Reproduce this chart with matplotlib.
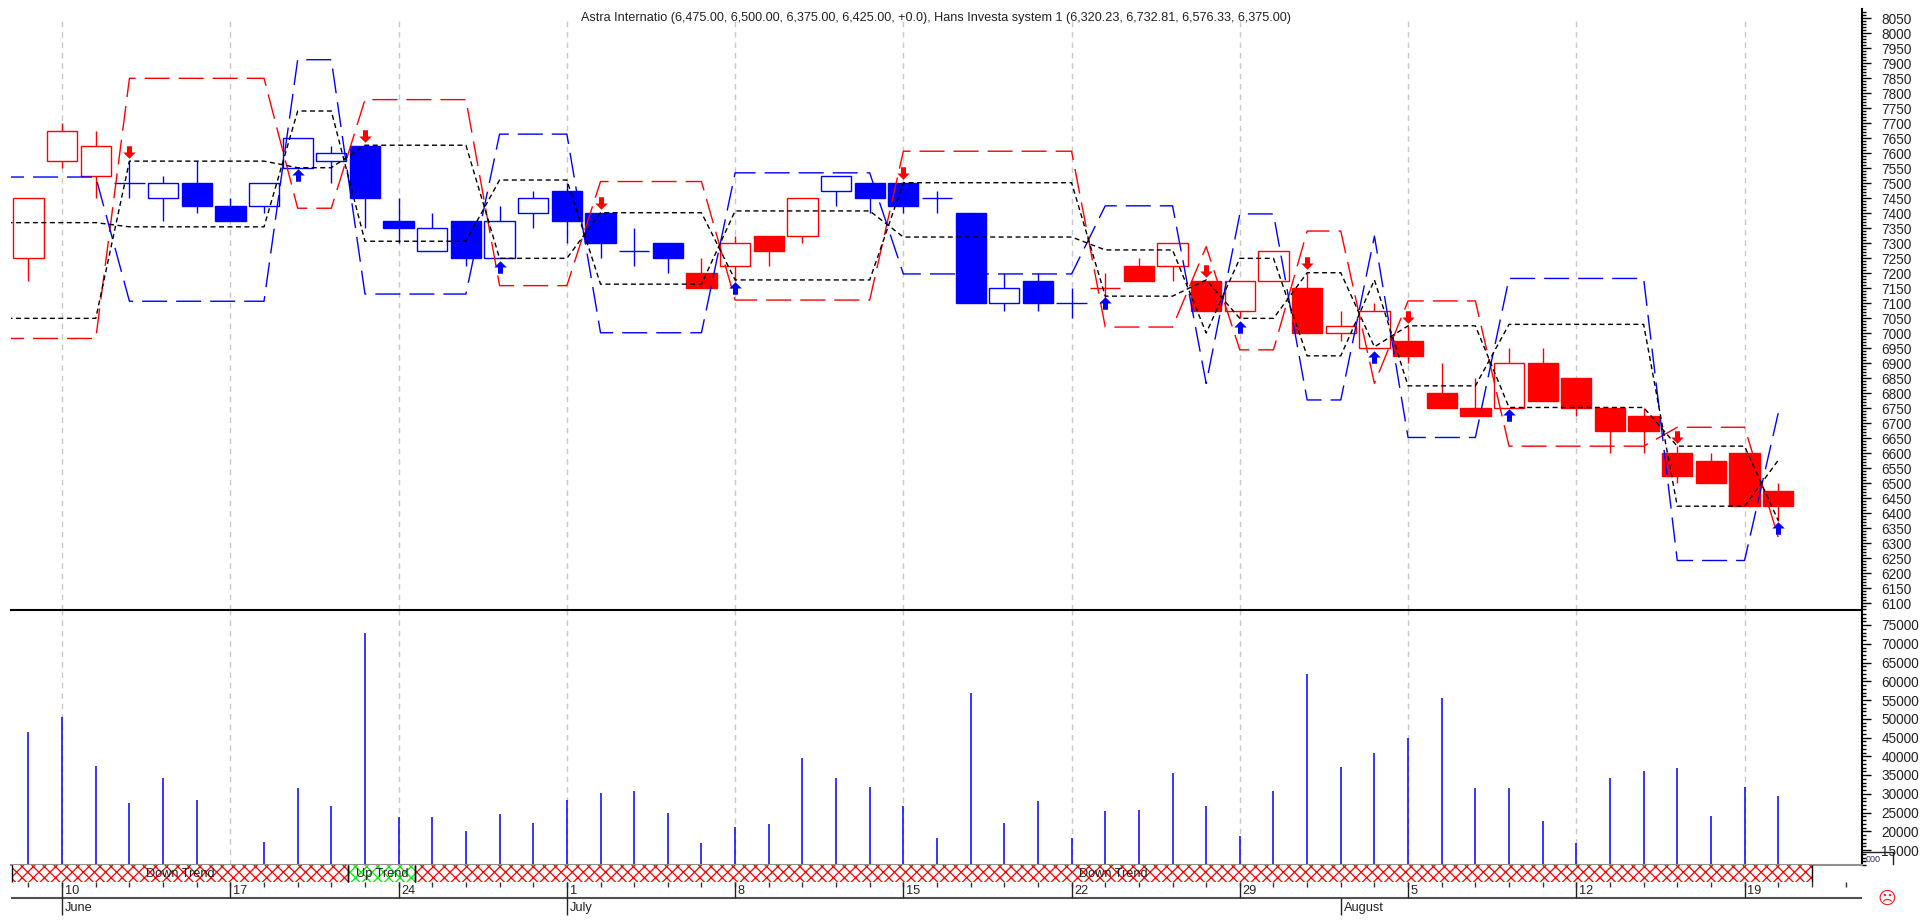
import matplotlib
matplotlib.use('Agg')
from matplotlib import pyplot as plt
from matplotlib.patches import Rectangle
from matplotlib.path import Path
import numpy as np

plt.rcParams['font.family'] = ['Liberation Sans', 'DejaVu Sans']
plt.rcParams['hatch.linewidth'] = 0.9

title = 'Astra Internatio (6,475.00, 6,500.00, 6,375.00, 6,425.00, +0.0), Hans Investa system 1 (6,320.23, 6,732.81, 6,576.33, 6,375.00)'

# candles, one entry per bar
opens = [7250, 7575, 7525, 7500, 7450, 7500, 7425, 7425, 7550, 7575,
         7625, 7375, 7275, 7375, 7250, 7400, 7475, 7400, 7275, 7300,
         7200, 7225, 7325, 7325, 7475, 7500, 7500, 7450, 7400, 7100,
         7175, 7100, 7150, 7225, 7225, 7175, 7075, 7175, 7150, 7000,
         6950, 6975, 6800, 6750, 6750, 6900, 6850, 6750, 6725, 6600,
         6575, 6600, 6475]
highs = [7450, 7700, 7675, 7575, 7525, 7575, 7450, 7500, 7650, 7625,
         7625, 7450, 7400, 7375, 7425, 7475, 7500, 7400, 7350, 7300,
         7250, 7325, 7325, 7450, 7525, 7500, 7500, 7475, 7400, 7200,
         7200, 7150, 7200, 7250, 7300, 7175, 7175, 7275, 7200, 7075,
         7100, 7025, 6900, 6850, 6950, 6950, 6850, 6750, 6750, 6625,
         6600, 6600, 6500]
lows = [7175, 7550, 7450, 7450, 7375, 7400, 7375, 7400, 7550, 7500,
        7350, 7300, 7275, 7225, 7250, 7350, 7300, 7250, 7225, 7200,
        7150, 7175, 7225, 7300, 7425, 7400, 7400, 7400, 7100, 7075,
        7075, 7050, 7100, 7175, 7175, 7075, 7050, 7175, 7000, 6975,
        6950, 6900, 6750, 6725, 6750, 6775, 6725, 6600, 6600, 6500,
        6500, 6425, 6375]
closes = [7450, 7675, 7625, 7500, 7500, 7425, 7375, 7500, 7650, 7600,
          7450, 7350, 7350, 7250, 7375, 7450, 7375, 7300, 7275, 7250,
          7150, 7300, 7275, 7450, 7525, 7450, 7425, 7450, 7100, 7150,
          7100, 7100, 7150, 7175, 7300, 7075, 7175, 7275, 7000, 7025,
          7075, 6925, 6750, 6725, 6900, 6775, 6750, 6675, 6675, 6525,
          6500, 6425, 6425]
bar_red = [1]*3 + [0]*17 + [1]*4 + [0]*8 + [1]*21

# system bands
red_band = ([6982]*3 + [7849]*5 + [7416]*2 + [7778]*4 + [7158]*3 + [7505]*4 + [7110]*5
            + [7606]*6 + [7020]*3 + [7288] + [6944]*2 + [7340]*2 + [6832] + [7107]*3
            + [6623]*5 + [6686]*3 + [6320])
blue_band = ([7520]*3 + [7106]*5 + [7911]*2 + [7130]*4 + [7663]*3 + [7001]*4 + [7534]*5
             + [7197]*6 + [7424]*3 + [6832] + [7397]*2 + [6777]*2 + [7323] + [6652]*3
             + [7182]*5 + [6242]*3 + [6733])
black_a = ([7049]*3 + [7573]*5 + [7551]*2 + [7626]*4 + [7249]*3 + [7401]*4 + [7177]*5
           + [7501]*6 + [7123]*3 + [7177] + [7049]*2 + [7201]*2 + [6954] + [7024]*3
           + [6752]*5 + [6623]*3 + [6375])
black_b = ([7368]*3 + [7354]*5 + [7740]*2 + [7306]*4 + [7510]*3 + [7163]*4 + [7407]*5
           + [7320]*6 + [7277]*3 + [7000] + [7249]*2 + [6924]*2 + [7177] + [6824]*3
           + [7029]*5 + [6423]*3 + [6576])

# signal arrows
down_bars = [3, 10, 17, 26, 35, 38, 41, 49]
down_prices = [7603, 7657, 7433, 7532, 7208, 7232, 7054, 6654]
up_bars = [8, 14, 21, 32, 36, 40, 44, 52]
up_prices = [7527, 7221, 7149, 7099, 7021, 6921, 6727, 6349]

volume = [46560, 50380, 37490, 27620, 34110, 28330, 0, 17220, 31450, 26820,
          72960, 23710, 23710, 19980, 24510, 22290, 28420, 30200, 30650, 24960,
          16960, 21130, 21850, 39450, 34110, 31710, 26820, 18110, 56960, 22290,
          27980, 18110, 25310, 25670, 35620, 26820, 18820, 30650, 61850, 37050,
          40960, 44780, 55450, 31450, 31450, 22650, 16960, 34110, 35980, 36780,
          24160, 31710, 29490]

# trend strip
trend_starts = [-0.5, 9.5, 11.5]
trend_ends = [9.5, 11.5, 53]
trend_names = ['Down Trend', 'Up Trend', 'Down Trend']
trend_colors = ['#ff0000', '#00ee00', '#ff0000']

# date axis
week_bars = [1, 6, 11, 16, 21, 26, 31, 36, 41, 46, 51]
week_labels = ['10', '17', '24', '1', '8', '15', '22', '29', '5', '12', '19']
month_bars = [1, 16, 39]
month_labels = ['June', 'July', 'August']

W, H = 1930, 921
XMIN, XMAX = -0.52, 54.49
TXT = '#222222'


def add_axes(top, bottom):
    left, right = 11, 1862
    return fig.add_axes([left / W, 1 - bottom / H, (right - left) / W, (bottom - top) / H])


def setup_value_axis(ax, major, minor):
    for s in ['top', 'left', 'bottom']:
        ax.spines[s].set_visible(False)
    ax.spines['right'].set_linewidth(1.5)
    ax.set_xlim(XMIN, XMAX)
    ax.set_xticks([])
    ax.yaxis.tick_right()
    ax.set_yticks(major)
    ax.set_yticks(minor, minor=True)
    ax.tick_params(axis='y', which='major', length=6.5, width=1, pad=7.5, labelsize=9.8, labelcolor=TXT)
    ax.tick_params(axis='y', which='minor', length=3, width=1)
    ax.patch.set_alpha(0)


fig = plt.figure(figsize=(W / 100, H / 100), dpi=100)
bars = np.arange(len(opens))
line_x = np.concatenate([[-1], bars])

# price panel
ax = add_axes(9, 610)
setup_value_axis(ax, np.arange(6100, 8051, 50), np.arange(6080, 8080, 10))
ax.set_ylim(6077, 8080)
ax.vlines(week_bars, 6077, 8050, color='#c8c8c8', lw=1, linestyles=(0, (4, 3.5)), zorder=1)

for i in bars:
    col = '#ff0000' if bar_red[i] else '#0000ff'
    top, bot = max(opens[i], closes[i]), min(opens[i], closes[i])
    ax.vlines(i, lows[i], highs[i], color=col, lw=1, zorder=2)
    face = col if closes[i] < opens[i] else 'white'
    ax.bar(i, top - bot, bottom=bot, width=0.9, facecolor=face, edgecolor=col, lw=1, zorder=3)

for vals, col in [(red_band, '#ff0000'), (blue_band, '#0000ff')]:
    ax.plot(line_x, [vals[0]] + vals, color=col, lw=1, linestyle=(0, (18, 6.5)), zorder=4)
for vals in [black_a, black_b]:
    ax.plot(line_x, [vals[0]] + vals, color='black', lw=1, linestyle=(0, (3.6, 2.5)), zorder=5)

arrow_verts = [(-0.22, 0), (0.22, 0), (0.22, -0.55), (0.55, -0.55), (0, -1.1), (-0.55, -0.55), (-0.22, -0.55), (-0.22, 0)]
down_marker = Path([(x, y + 0.55) for x, y in arrow_verts])
up_marker = Path([(x, -y - 0.55) for x, y in arrow_verts])
ax.plot(down_bars, down_prices, ls='none', marker=down_marker, ms=9, color='#ff0000', mew=0, zorder=6)
ax.plot(up_bars, up_prices, ls='none', marker=up_marker, ms=9, color='#0000ff', mew=0, zorder=6)

# volume panel
ax_v = add_axes(610, 865)
setup_value_axis(ax_v, np.arange(15000, 75001, 5000), np.arange(11000, 79000, 1000))
ax_v.set_ylim(11000, 79000)
ax_v.vlines(week_bars, 11000, 79000, color='#c8c8c8', lw=1, linestyles=(0, (4, 3.5)), zorder=1)
ax_v.vlines(bars, 0, volume, color='#0000ff', lw=1.1, zorder=2)
ax_v.spines['top'].set_visible(True)
ax_v.spines['top'].set_linewidth(1.5)
ax_v.spines['bottom'].set_visible(True)
ax_v.spines['bottom'].set_color('#909090')
ax_v.spines['bottom'].set_linewidth(1.5)

# date strip, y in pixels
ax_d = add_axes(865, 921)
ax_d.set_xlim(XMIN, XMAX)
ax_d.set_ylim(921, 865)
ax_d.axis('off')
for x0, x1, name, col in zip(trend_starts, trend_ends, trend_names, trend_colors):
    ax_d.add_patch(Rectangle((x0, 865), x1 - x0, 17, facecolor='white', edgecolor=col, hatch='xxx', lw=0))
    ax_d.vlines([x0, x1], 865, 882, color='black', lw=1, zorder=3)
    ax_d.text((x0 + x1) / 2, 873.5, name, ha='center', va='center', fontsize=9.2, color=TXT, zorder=4)

all_ticks = np.arange(0, 55)
ax_d.vlines(all_ticks, 882, 887, color='#333333', lw=1)
ax_d.hlines(898, XMIN, XMAX, color='#505050', lw=1.5)
ax_d.vlines(week_bars, 882, 898, color='#222222', lw=1)
ax_d.vlines(month_bars, 898, 915, color='#222222', lw=1)
for x, lab in zip(week_bars, week_labels):
    ax_d.text(x + 0.08, 890.5, lab, ha='left', va='center', fontsize=9.2, color=TXT)
for x, lab in zip(month_bars, month_labels):
    ax_d.text(x + 0.08, 908, lab, ha='left', va='center', fontsize=9.2, color=TXT)

fig.text(581 / W, 1 - 18 / H, title, ha='left', va='center', fontsize=9.14, color=TXT)
fig.text(1866 / W, 1 - 859 / H, '000', ha='left', va='center', fontsize=6.5, color='#223366')
fig.add_artist(plt.Line2D([1863 / W, 1893 / W, 1893 / W], [1 - 852 / H, 1 - 852 / H, 1 - 864 / H], color='#222222', lw=1))
fig.text(1887 / W, 1 - 899 / H, '\u2639', ha='center', va='center', fontsize=13, color='#ff2020', family='DejaVu Sans')

fig.savefig('out.png', dpi=100)
